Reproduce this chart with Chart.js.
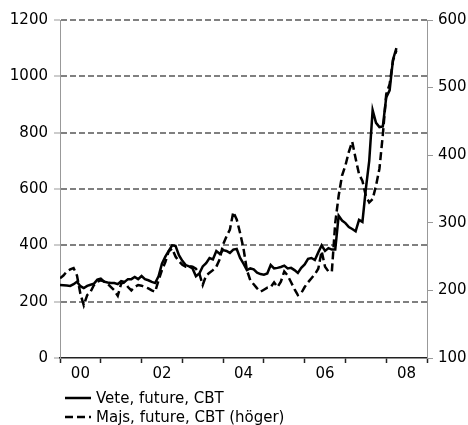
<!DOCTYPE html>
<html>
<head>
<meta charset="utf-8">
<script src="https://cdn.jsdelivr.net/npm/chart.js@4/dist/chart.umd.min.js"></script>
<style>
  body { margin: 0; background: #fff; }
  #wrap { position: relative; width: 468px; height: 425px; }
  #legend { position: absolute; left: 65px; top: 388px; font: 15px "DejaVu Sans", sans-serif; color: #000; }
  #legend div { height: 19px; display: flex; align-items: center; white-space: nowrap; }
  #legend svg { margin-right: 5px; }
</style>
</head>
<body>
<div id="wrap">
  <canvas id="chart" width="468" height="425"></canvas>
  <div id="legend"></div>
</div>
<script>
// month 0 = Jan 2000, x axis runs to Jan 2009
const yearLabels = ["00", "02", "04", "06", "08"];
const seriesNames = ["Vete, future, CBT", "Majs, future, CBT (höger)"];

// wheat, left axis
const wheat = [
  259, 258, 257, 256, 262, 271, 255, 248, 256, 260,
  264, 278, 282, 271, 268, 266, 266, 262, 273, 270,
  280, 280, 288, 280, 291, 280, 276, 270, 266, 290,
  335, 360, 380, 400, 398, 365, 345, 330, 325, 318,
  290, 300, 325, 337, 355, 350, 380, 370, 383, 380,
  373, 385, 387, 355, 335, 312, 318, 315, 303, 298,
  296, 300, 330, 318, 320, 323, 328, 318, 320, 312,
  302, 320, 332, 352, 355, 348, 375, 400, 380, 390,
  385, 385, 505, 488, 479, 465, 458, 450, 490, 483,
  600, 700, 880, 835, 820, 822, 925, 950, 1060, 1100
];

// corn, right axis
const corn = [
  218, 222, 228, 231, 233, 222, 195, 178, 193, 198,
  208, 213, 215, 213, 210, 205, 200, 192, 210, 212,
  205, 200, 205, 208, 207, 205, 203, 200, 198, 215,
  230, 242, 258, 262, 250, 243, 238, 235, 236, 235,
  232, 225, 208, 222, 226, 230, 235, 246, 268, 280,
  290, 316, 305, 285, 262, 230, 215, 209, 203, 198,
  201, 204, 205, 212, 205, 213, 228, 222, 212, 202,
  193, 196, 205, 212, 218, 224, 232, 258, 235, 228,
  228, 300, 340, 370, 385, 405, 420, 395, 372, 362,
  340, 330, 335, 355, 380, 430, 490, 505, 540, 555
];

const toPoints = arr => arr.map((v, i) => ({ x: i, y: v }));

Chart.defaults.font.family = "'DejaVu Sans', sans-serif";
Chart.defaults.font.size = 15;
Chart.defaults.color = "#000";

const chart = new Chart(document.getElementById("chart"), {
  type: "line",
  data: {
    datasets: [
      {
        label: seriesNames[0],
        data: toPoints(wheat),
        borderColor: "#000",
        borderWidth: 2.5,
        pointRadius: 0,
        yAxisID: "y"
      },
      {
        label: seriesNames[1],
        data: toPoints(corn),
        borderColor: "#000",
        borderWidth: 2.5,
        borderDash: [8, 4],
        pointRadius: 0,
        yAxisID: "y1"
      }
    ]
  },
  options: {
    responsive: false,
    animation: false,
    layout: { padding: { top: 20, bottom: 37, left: 0, right: 0 } },
    plugins: { legend: { display: false }, tooltip: { enabled: false } },
    scales: {
      x: {
        type: "linear",
        min: 0,
        max: 108,
        afterFit: s => { s.height = 30; },
        ticks: {
          stepSize: 6,
          autoSkip: false,
          maxRotation: 0,
          padding: 2,
          callback: v => (v % 24 === 6 ? yearLabels[(v - 6) / 24] : "")
        },
        grid: {
          drawOnChartArea: false,
          tickLength: 5,
          tickWidth: 1.5,
          tickColor: c => (c.tick && c.tick.value % 12 === 0 ? "#222" : "rgba(0,0,0,0)")
        },
        border: { color: "#222", width: 1.5 }
      },
      y: {
        position: "left",
        min: 0,
        max: 1200,
        afterFit: s => { s.width = 60; },
        ticks: { stepSize: 200, padding: 6, callback: v => String(v) },
        grid: {
          color: c => (c.tick && c.tick.value === 0 ? "rgba(0,0,0,0)" : "#808080"),
          lineWidth: 2,
          tickLength: 6,
          tickWidth: 1,
          tickColor: "#999"
        },
        border: { color: "#999", width: 1, dash: [6, 3] }
      },
      y1: {
        position: "right",
        min: 100,
        max: 600,
        afterFit: s => { s.width = 41; },
        ticks: { stepSize: 100, padding: 5, callback: v => String(v) },
        grid: {
          drawOnChartArea: false,
          tickLength: 6,
          tickWidth: 1,
          tickColor: "#999"
        },
        border: { color: "#999", width: 1 }
      }
    }
  }
});

// legend below the plot
const legend = document.getElementById("legend");
chart.data.datasets.forEach(ds => {
  const row = document.createElement("div");
  const dash = ds.borderDash ? ds.borderDash.join(",") : "none";
  row.innerHTML =
    '<svg width="26" height="6"><line x1="0" y1="3" x2="26" y2="3" stroke="#000" stroke-width="2.5" stroke-dasharray="' +
    dash + '"/></svg><span>' + ds.label + "</span>";
  legend.appendChild(row);
});
</script>
</body>
</html>
